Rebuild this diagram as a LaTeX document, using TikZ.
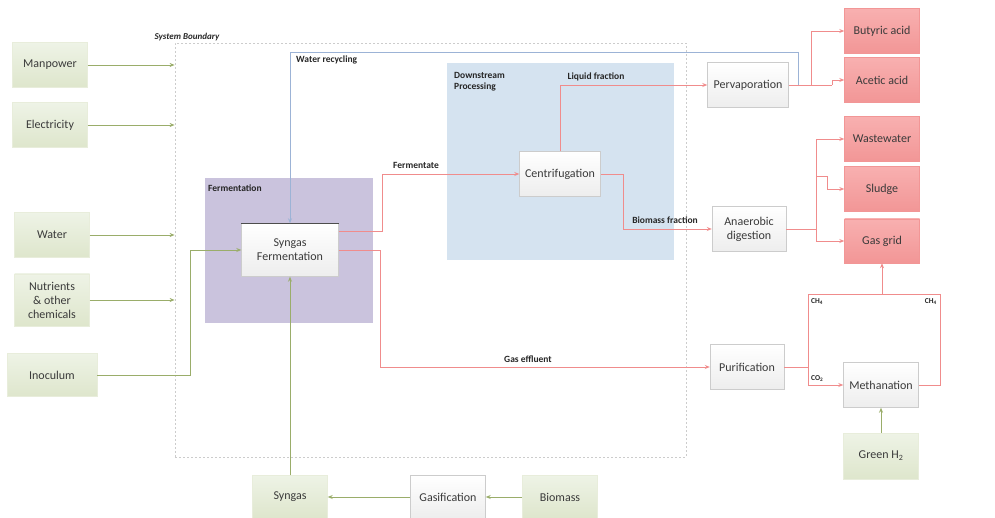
\documentclass[tikz,border=0pt]{standalone}
\usepackage{fontspec}
\setmainfont{Carlito}
\usetikzlibrary{arrows.meta}
\definecolor{ingreenT}{HTML}{EEF3E6}
\definecolor{ingreenB}{HTML}{DEE6CC}
\definecolor{greenline}{HTML}{9AAD6A}
\definecolor{redline}{HTML}{F08C8C}
\definecolor{blueline}{HTML}{9CB3D6}
\definecolor{redT}{HTML}{F8B0B0}
\definecolor{redB}{HTML}{F29696}
\definecolor{fermfill}{HTML}{CAC3DD}
\definecolor{dspfill}{HTML}{D5E3F0}
\definecolor{txt}{HTML}{3A3A3A}
\begin{document}
\begin{tikzpicture}[x=1pt, y=-1pt, >={Stealth[length=5pt,width=4pt]},
        font=\fontsize{12}{14}\selectfont, text=txt,
        inbox/.style={rectangle, minimum width=75pt, minimum height=45pt, inner sep=1pt, align=center,
                      top color=ingreenT, bottom color=ingreenB, draw=ingreenB!70},
        procbox/.style={rectangle, minimum width=75pt, minimum height=45pt, inner sep=1pt, align=center,
                        top color=white, bottom color=gray!14, draw=gray!40},
        outbox/.style={rectangle, minimum width=75pt, minimum height=45pt, inner sep=1pt, align=center,
                       top color=redT, bottom color=redB, draw=redB},
        lab/.style={font=\fontsize{9.5}{11}\selectfont\bfseries, text=black!85, inner sep=1pt, align=left},
        sub/.style={font=\fontsize{7.5}{9}\selectfont\bfseries, text=black!85, inner sep=1pt},
        gline/.style={draw=greenline, line width=0.9pt},
        rline/.style={draw=redline, line width=0.9pt},
        bline/.style={draw=blueline, line width=0.9pt}]
        \useasboundingbox (0,0) rectangle (995,518);
        % ---- system boundary and frames ----
        \node[draw=gray!40, dash pattern=on 2pt off 2pt, line width=0.8pt,
              minimum width=511pt, minimum height=414pt, inner sep=0pt] (sysb) at (430.5,250) {};
        \node[lab, font=\fontsize{9}{11}\selectfont\bfseries\itshape] (sblab) at (187,37) {System Boundary};
        \node[fill=fermfill, minimum width=168pt, minimum height=145pt, inner sep=0pt] (fermbox) at (289,250.5) {};
        \node[lab, anchor=north west] (fermlab) at (207,184) {Fermentation};
        \node[fill=dspfill, minimum width=227pt, minimum height=197pt, inner sep=0pt] (dspbox) at (560.5,161.5) {};
        \node[lab, anchor=north west] (dsplab) at (453,71) {Downstream\\Processing};
        % ---- inputs ----
        \node[inbox] (manpower) at (50,65)  {Manpower};
        \node[inbox] (elec)     at (50,125) {Electricity};
        \node[inbox] (water)    at (52,235) {Water};
        \node[inbox, minimum height=52pt] (nutr) at (52,300) {Nutrients\\\& other\\chemicals};
        \node[inbox, minimum width=90pt, minimum height=43pt] (inoc) at (52,375) {Inoculum};
        \node[inbox, minimum height=43pt] (syngas)  at (290,497) {Syngas};
        \node[procbox, minimum height=43pt] (gasif) at (448,497) {Gasification};
        \node[inbox, minimum height=43pt] (biomass) at (560,497) {Biomass};
        \node[inbox, minimum height=46pt] (hgreen)  at (881,456) {Green H\textsubscript{2}};
        % ---- process units ----
        \node[procbox, minimum width=97pt, minimum height=53pt] (sfer) at (290,250) {Syngas\\Fermentation};
        \draw[black!70, line width=0.8pt] (sfer.north west) -- (sfer.north east);
        \node[procbox, minimum width=81pt] (cent)  at (560,174) {Centrifugation};
        \node[procbox, minimum width=81pt] (perv)  at (748,85)  {Pervaporation};
        \node[procbox, minimum width=74pt] (anae)  at (749,229) {Anaerobic\\digestion};
        \node[procbox, minimum width=74pt] (purif) at (747,367) {Purification};
        \node[procbox] (meth) at (881,385) {Methanation};
        % ---- products ----
        \node[outbox] (butyr)  at (882,31)  {Butyric acid};
        \node[outbox] (acet)   at (882,80)  {Acetic acid};
        \node[outbox] (waste)  at (882,139) {Wastewater};
        \node[outbox] (sludge) at (882,189) {Sludge};
        \node[outbox, minimum height=44pt] (grid) at (882,241) {Gas grid};
        % ---- inputs -> system ----
        \foreach \a in {manpower, elec, water, nutr}
            \draw[gline,->] (\a) -- (\a -| sysb.west);
        \coordinate (inocbend) at (190,375);
        \draw[gline,->] (inoc) -- (inocbend) |- (sfer.west);
        \draw[gline,->] (syngas) -- (sfer);
        \draw[gline,->] (gasif) -- (syngas);
        \draw[gline,->] (biomass) -- (gasif);
        \draw[gline,->] (hgreen) -- (meth);
        % ---- fermentation -> downstream ----
        \coordinate (fbend) at (382,174);
        \draw[rline,->] ([yshift=19pt]sfer.east) -| (fbend) -- (cent.west);
        \node[lab, anchor=south] (fermtlab) at (416,170) {Fermentate};
        \coordinate (gbend) at (380,367);
        \draw[rline,->] (sfer.east) -| (gbend) -- (purif.west);
        \node[lab, anchor=south] (gaslab) at (528,364) {Gas effluent};
        \draw[rline,->] (cent.north) |- (perv.west);
        \node[lab, anchor=south] (liqlab) at (596,82) {Liquid fraction};
        \coordinate (bbend) at (623,229);
        \draw[rline,->] (cent.east) -| (bbend) -- (anae.west);
        \node[lab, anchor=south] (biolab) at (665,225) {Biomass fraction};
        % ---- water recycling ----
        \coordinate (wrtop) at (798,52);
        \draw[bline,->] (wrtop |- perv.east) -- (wrtop) -| (sfer.north);
        \node[lab, anchor=north west] (wrlab) at (295,55) {Water recycling};
        % ---- pervaporation -> acids ----
        \coordinate (pa) at (811,85);
        \coordinate (pb) at (832,85);
        \draw[rline] (perv.east) -- (pb);
        \draw[rline,->] (pa) |- (butyr.west);
        \draw[rline,->] (pb) |- (acet.west);
        % ---- anaerobic digestion -> products ----
        \coordinate (ad) at (816,229);
        \coordinate (as) at (816,176);
        \coordinate (as2) at (827,176);
        \draw[rline] (anae.east) -- (ad);
        \draw[rline,->] (ad) |- (waste.west);
        \draw[rline,->] (ad) |- (grid.west);
        \draw[rline,->] (as) -- (as2) |- (sludge.west);
        % ---- purification -> methanation -> gas grid ----
        \coordinate (pu) at (808,367);
        \coordinate (putop) at (808,294);
        \coordinate (mtop) at (940,294);
        \draw[rline] (purif.east) -- (pu) -- (putop) -- (mtop) |- (meth.east);
        \draw[rline,->] (pu) |- (meth.west);
        \draw[rline,->] (grid.south |- putop) -- (grid.south);
        \node[sub, anchor=north west] (ch4a) at (810,297) {CH\textsubscript{4}};
        \node[sub, anchor=north east] (ch4b) at (938,297) {CH\textsubscript{4}};
        \node[sub, anchor=south west] (co2)  at (810,383) {CO\textsubscript{2}};
\end{tikzpicture}
\end{document}
